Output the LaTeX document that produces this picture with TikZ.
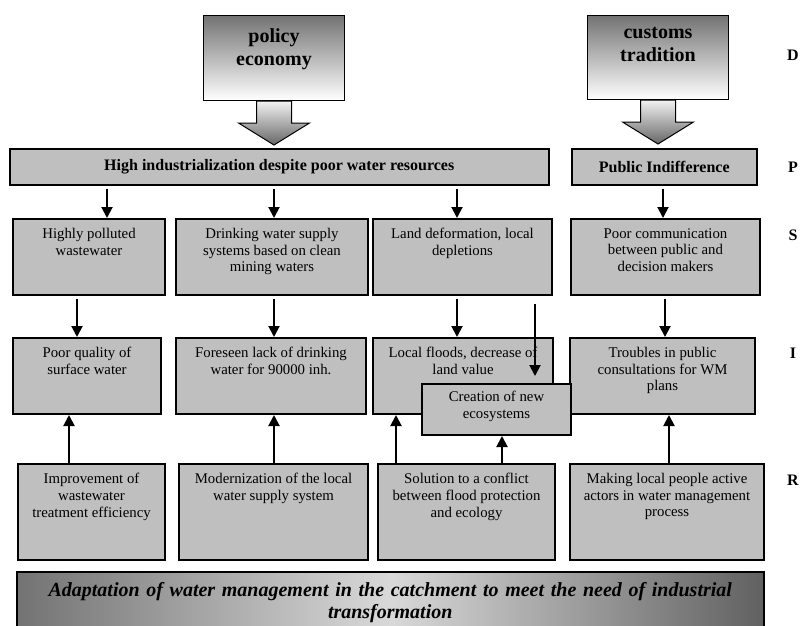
\documentclass[tikz,border=0pt]{standalone}
\usepackage{fontspec}
\setmainfont{Liberation Serif}
\usetikzlibrary{positioning,calc,arrows.meta}

\tikzset{
  cell/.style={draw, line width=2pt, fill=black!25, anchor=north west, inner sep=0pt},
  celltext/.style={anchor=north, align=center, inner sep=0pt, font=\fontsize{14.8}{16.7}\selectfont},
  bar/.style={draw, line width=1.5pt, fill=black!25, anchor=north west, inner sep=0pt, font=\bfseries\fontsize{16}{18}\selectfont},
  drive/.style={draw, line width=1pt, top color=black!55, bottom color=white, anchor=north west, inner sep=0pt},
  drivetext/.style={anchor=north, align=center, inner sep=0pt, font=\bfseries\fontsize{20}{23}\selectfont},
  shaft/.style={draw, line width=1pt, top color=black!5, bottom color=black!60},
  arr/.style={line width=2pt, -{Triangle[length=11pt,width=11pt]}},
  lvl/.style={font=\bfseries\fontsize{16}{18}\selectfont}
}

\begin{document}
\begin{tikzpicture}[x=1pt, y=-1pt]
    \useasboundingbox (0,0) rectangle (803,626);

    % Driving forces
    \node[drive, minimum width=141, minimum height=85] (policy) at (203,15) {};
    \node[drivetext] (policyt) at ([yshift=-13pt]policy.north) {policy\\economy};
    \node[drive, minimum width=141, minimum height=84] (customs) at (587,15) {};
    \node[drivetext] (customst) at ([yshift=-12pt]customs.north) {customs\\tradition};
    \foreach \n in {policy,customs}
        \draw[shaft] (\n.south) ++(-17.5,0) -- ++(0,22) -- ++(-18,0) -- ++(35.5,22)
            -- ++(35.5,-22) -- ++(-18,0) -- ++(0,-22) -- cycle;

    % Pressures
    \node[bar, minimum width=539, minimum height=36] (pb) at (9,148) {High industrialization despite poor water resources};
    \node[bar, minimum width=185, minimum height=36] (pi) at (571,148) {Public Indifference};

    % State
    \node[cell, minimum width=152, minimum height=76] (s1) at (12,218) {};
    \node[cell, minimum width=192, minimum height=76] (s2) at (175,218) {};
    \node[cell, minimum width=179, minimum height=76] (s3) at (372,218) {};
    \node[cell, minimum width=189, minimum height=76] (s4) at (570,218) {};
    \node[celltext] (s1t) at ([yshift=-10pt]s1.north) {Highly polluted\\wastewater};
    \node[celltext] (s2t) at ([yshift=-10pt]s2.north) {Drinking water supply\\systems based on clean\\mining waters};
    \node[celltext] (s3t) at ([yshift=-10pt]s3.north) {Land deformation, local\\depletions};
    \node[celltext] (s4t) at ([yshift=-10pt]s4.north) {Poor communication\\between public and\\decision makers};

    % Impact
    \node[cell, minimum width=148, minimum height=76] (i1) at (12,337) {};
    \node[cell, minimum width=190, minimum height=76] (i2) at (175,337) {};
    \node[cell, minimum width=180, minimum height=76] (i3) at (372,337) {};
    \node[cell, minimum width=185, minimum height=76] (i4) at (569,337) {};
    \node[celltext] (i1t) at ([yshift=-10pt]i1.north) {Poor quality of\\surface water};
    \node[celltext] (i2t) at ([yshift=-10pt]i2.north) {Foreseen lack of drinking\\water for 90000 inh.};
    \node[celltext] (i3t) at ([yshift=-10pt]i3.north) {Local floods, decrease of\\land value};
    \node[celltext] (i4t) at ([yshift=-10pt]i4.north) {Troubles in public\\consultations for WM\\plans};
    \node[cell, minimum width=149, minimum height=51] (cr) at (421,383) {};
    \node[celltext] (crt) at ([yshift=-8pt]cr.north) {Creation of new\\ecosystems};

    % Responses
    \node[cell, minimum width=147, minimum height=96] (r1) at (17,463) {};
    \node[cell, minimum width=189, minimum height=96] (r2) at (178,463) {};
    \node[cell, minimum width=177, minimum height=96] (r3) at (377,463) {};
    \node[cell, minimum width=194, minimum height=96] (r4) at (569,463) {};
    \node[celltext] (r1t) at ([yshift=-10pt]r1.north) {Improvement of\\wastewater\\treatment efficiency};
    \node[celltext] (r2t) at ([yshift=-10pt]r2.north) {Modernization of the local\\water supply system};
    \node[celltext] (r3t) at ([yshift=-10pt]r3.north) {Solution to a conflict\\between flood protection\\and ecology};
    \node[celltext] (r4t) at ([yshift=-10pt]r4.north) {Making local people active\\actors in water management\\process};

    % Arrows
    \foreach \x/\a/\b in {107/pb/s1, 274/pb/s2, 457/pb/s3, 663/pi/s4, 77/s1/i1, 274/s2/i2, 457/s3/i3, 665/s4/i4}
        \draw[arr, shorten <=3pt] (\x,0 |- \a.south) -- (\x,0 |- \b.north);
    \draw[arr, shorten <=8pt, shorten >=7pt] (535,0 |- s3.south) -- (535,0 |- cr.north);
    \foreach \x/\a/\b in {69/r1/i1, 274/r2/i2, 396/r3/i3, 502/r3/cr, 669/r4/i4}
        \draw[arr] (\x,0 |- \a.north) -- (\x,0 |- \b.south);

    % Adaptation bar
    \node[draw, line width=1.5pt, anchor=north west, minimum width=747, minimum height=62,
        left color=black!55, right color=black!62, middle color=black!15,
        text width=745, align=center, inner sep=0pt, font=\bfseries\itshape\fontsize{20}{22}\selectfont]
        (adapt) at (16,571) {Adaptation of water management in the catchment to meet the need of industrial\\transformation};

    % Levels
    \node[lvl] (lD) at (793,55) {D};
    \node[lvl] (lP) at (793,167) {P};
    \node[lvl] (lS) at (793,235) {S};
    \node[lvl] (lI) at (793,353) {I};
    \node[lvl] (lR) at (793,480) {R};
\end{tikzpicture}
\end{document}
